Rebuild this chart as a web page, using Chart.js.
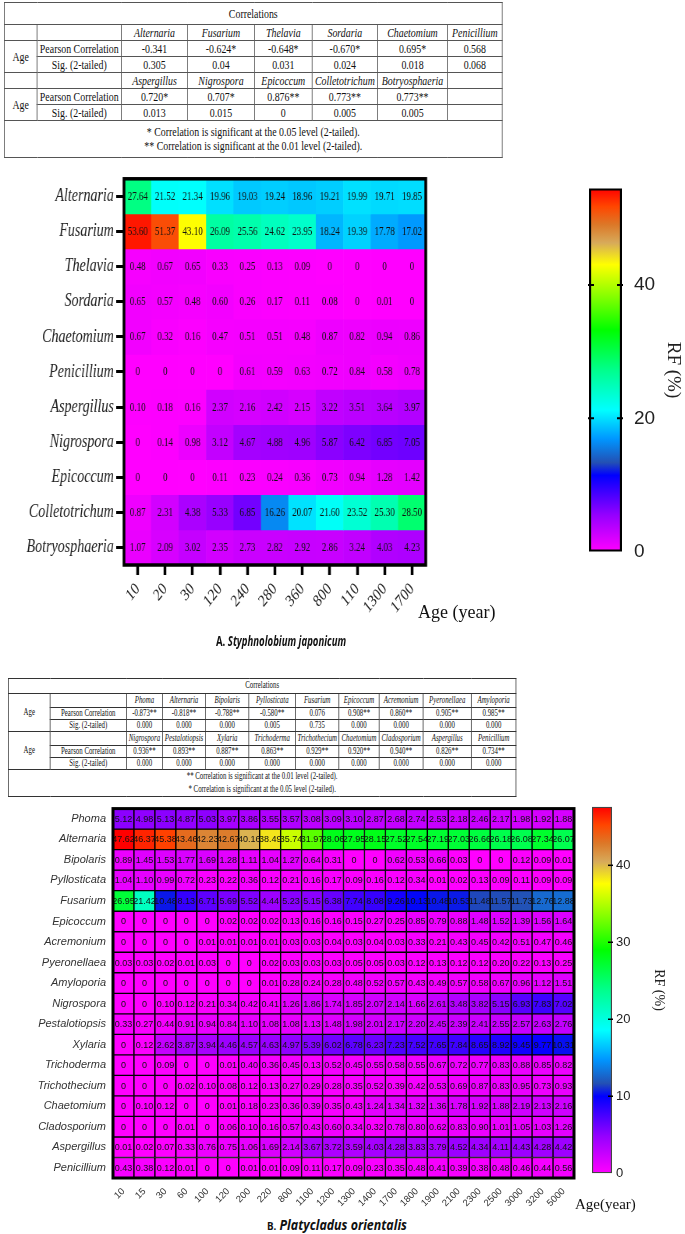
<!DOCTYPE html>
<html>
<head>
<meta charset="utf-8">
<script src="https://cdn.jsdelivr.net/npm/chart.js@4.4.0/dist/chart.umd.min.js"></script>
<style>
    body { margin: 0; width: 685px; height: 1234px; position: relative; background: #fff; overflow: hidden; font-family: "Liberation Serif", serif; color: #111; }
    .abs { position: absolute; }
    .squeeze { transform-origin: 0 0; }
    table.corr { border-collapse: collapse; table-layout: fixed; }
    table.corr td { padding: 0; text-align: center; vertical-align: middle; white-space: nowrap; overflow: hidden; line-height: 1; }
    #tblA { font-size: 13px; }
    #tblA td { border: 1px solid #555; }
    #tblA td.note { line-height: 1.1; }
    #tblB { font-size: 9.5px; }
    #tblB td { border: 1px solid #333; }
    #tblB td.note { line-height: 1.35; }
    .cap { position: absolute; font-family: "Open Sans", sans-serif; font-weight: bold; font-size: 14px; white-space: nowrap; transform-origin: 0 50%; color: #111; }
    .agelab { position: absolute; white-space: nowrap; color: #111; }
</style>
</head>
<body>

<div class="abs squeeze" style="left:4px; top:2px; transform: scaleX(0.76);">
    <table class="corr" id="tblA" style="width:655px;">
        <colgroup>
            <col style="width:43px"><col style="width:111px"><col style="width:87px"><col style="width:88px">
            <col style="width:76px"><col style="width:86px"><col style="width:92px"><col style="width:72px">
        </colgroup>
    </table>
</div>

<canvas id="heatA" class="abs" width="554" height="470" style="left:0px; top:165px; width:432px; height:470px;"></canvas>
<canvas id="barA" class="abs" width="100" height="410" style="left:584px; top:165px; width:100px; height:410px;"></canvas>
<div class="agelab" style="left:418px; top:602px; font-size:18px;">Age (year)</div>
<div class="cap" id="capA" style="left:216px; top:631px;">A. <i>Styphnolobium japonicum</i></div>

<div class="abs squeeze" style="left:8px; top:678px; transform: scaleX(0.72);">
    <table class="corr" id="tblB" style="width:705px;">
        <colgroup>
            <col style="width:58px"><col style="width:106px"><col style="width:50px"><col style="width:60px">
            <col style="width:60px"><col style="width:65px"><col style="width:60px"><col style="width:56px">
            <col style="width:61px"><col style="width:67px"><col style="width:62px">
        </colgroup>
    </table>
</div>

<canvas id="heatB" class="abs" width="580" height="420" style="left:0px; top:795px; width:580px; height:420px;"></canvas>
<canvas id="barB" class="abs" width="80" height="390" style="left:587px; top:795px; width:80px; height:390px;"></canvas>
<div class="agelab" style="left:575px; top:1196px; font-size:15px;">Age(year)</div>
<div class="cap" id="capB" style="left:267px; top:1215px;"><span style="font-size:11px">B.</span> <i>Platycladus orientalis</i></div>

<script>
// ---------- A. Styphnolobium japonicum ----------
const agesA = ['10', '20', '30', '120', '240', '280', '360', '800', '110', '1300', '1700'];
const taxaA = ['Alternaria', 'Fusarium', 'Thelavia', 'Sordaria', 'Chaetomium', 'Penicillium',
    'Aspergillus', 'Nigrospora', 'Epicoccum', 'Colletotrichum', 'Botryosphaeria'];
const rfA = [
    [27.64, 21.52, 21.34, 19.96, 19.03, 19.24, 18.96, 19.21, 19.99, 19.71, 19.85],
    [53.60, 51.37, 43.10, 26.09, 25.56, 24.62, 23.95, 18.24, 19.39, 17.78, 17.02],
    [0.48, 0.67, 0.65, 0.33, 0.25, 0.13, 0.09, 0, 0, 0, 0],
    [0.65, 0.57, 0.48, 0.60, 0.26, 0.17, 0.11, 0.08, 0, 0.01, 0],
    [0.67, 0.32, 0.16, 0.47, 0.51, 0.51, 0.48, 0.87, 0.82, 0.94, 0.86],
    [0, 0, 0, 0, 0.61, 0.59, 0.63, 0.72, 0.84, 0.58, 0.78],
    [0.10, 0.18, 0.16, 2.37, 2.16, 2.42, 2.15, 3.22, 3.51, 3.64, 3.97],
    [0, 0.14, 0.98, 3.12, 4.67, 4.88, 4.96, 5.87, 6.42, 6.85, 7.05],
    [0, 0, 0, 0.11, 0.23, 0.24, 0.36, 0.73, 0.94, 1.28, 1.42],
    [0.87, 2.31, 4.38, 5.33, 6.85, 16.26, 20.07, 21.60, 23.52, 25.30, 28.50],
    [1.07, 2.09, 3.02, 2.35, 2.73, 2.82, 2.92, 2.86, 3.24, 4.03, 4.23]
];
const rfMaxA = 54.5;

const corrTaxaA1 = ['Alternaria', 'Fusarium', 'Thelavia', 'Sordaria', 'Chaetomium', 'Penicillium'];
const corrRA1 = ['-0.341', '-0.624*', '-0.648*', '-0.670*', '0.695*', '0.568'];
const corrPA1 = ['0.305', '0.04', '0.031', '0.024', '0.018', '0.068'];
const corrTaxaA2 = ['Aspergillus', 'Nigrospora', 'Epicoccum', 'Colletotrichum', 'Botryosphaeria', ''];
const corrRA2 = ['0.720*', '0.707*', '0.876**', '0.773**', '0.773**', ''];
const corrPA2 = ['0.013', '0.015', '0', '0.005', '0.005', ''];

// ---------- B. Platycladus orientalis ----------
const agesB = ['10', '15', '30', '60', '100', '120', '200', '220', '800', '1100', '1200', '1300', '1400',
    '1700', '1800', '1900', '2100', '2300', '2500', '3000', '3200', '5000'];
const taxaB = ['Phoma', 'Alternaria', 'Bipolaris', 'Pyllosticata', 'Fusarium', 'Epicoccum', 'Acremonium',
    'Pyeronellaea', 'Amyloporia', 'Nigrospora', 'Pestalotiopsis', 'Xylaria', 'Trichoderma',
    'Trichothecium', 'Chaetomium', 'Cladosporium', 'Aspergillus', 'Penicillium'];
const rfB = [
    [5.12, 4.98, 5.13, 4.87, 5.03, 3.97, 3.86, 3.55, 3.57, 3.08, 3.09, 3.10, 2.87, 2.68, 2.74, 2.53, 2.18, 2.46, 2.17, 1.98, 1.92, 1.88],
    [47.62, 46.37, 45.38, 43.46, 42.23, 42.67, 40.16, 38.49, 35.74, 31.97, 28.06, 27.95, 28.15, 27.52, 27.54, 27.19, 27.03, 26.66, 26.18, 26.08, 27.34, 26.07],
    [0.89, 1.45, 1.53, 1.77, 1.69, 1.28, 1.11, 1.04, 1.27, 0.64, 0.31, 0, 0, 0.62, 0.53, 0.66, 0.03, 0, 0, 0.12, 0.09, 0.01],
    [1.04, 1.10, 0.99, 0.72, 0.23, 0.22, 0.36, 0.12, 0.21, 0.16, 0.17, 0.09, 0.16, 0.12, 0.34, 0.01, 0.02, 0.13, 0.09, 0.11, 0.09, 0.09],
    [26.95, 21.42, 10.48, 8.13, 6.71, 5.69, 5.52, 4.44, 5.23, 5.15, 6.38, 7.74, 8.08, 9.26, 10.13, 10.48, 10.53, 11.48, 11.57, 11.73, 12.76, 12.88],
    [0, 0, 0, 0, 0, 0.02, 0.02, 0.02, 0.13, 0.16, 0.16, 0.15, 0.27, 0.25, 0.85, 0.79, 0.88, 1.48, 1.52, 1.39, 1.56, 1.64],
    [0, 0, 0, 0, 0.01, 0.01, 0.01, 0.01, 0.03, 0.03, 0.04, 0.03, 0.04, 0.03, 0.33, 0.21, 0.43, 0.45, 0.42, 0.51, 0.47, 0.46],
    [0.03, 0.03, 0.02, 0.01, 0.03, 0, 0, 0.02, 0.03, 0.03, 0.03, 0.05, 0.05, 0.03, 0.12, 0.13, 0.12, 0.12, 0.20, 0.22, 0.13, 0.25],
    [0, 0, 0, 0, 0, 0, 0, 0.01, 0.28, 0.24, 0.28, 0.48, 0.52, 0.57, 0.43, 0.49, 0.57, 0.58, 0.67, 0.96, 1.12, 1.51],
    [0, 0, 0.10, 0.12, 0.21, 0.34, 0.42, 0.41, 1.26, 1.86, 1.74, 1.85, 2.07, 2.14, 1.66, 2.61, 3.48, 3.82, 5.15, 6.93, 7.83, 7.02],
    [0.33, 0.27, 0.44, 0.91, 0.94, 0.84, 1.10, 1.08, 1.08, 1.13, 1.48, 1.98, 2.01, 2.17, 2.20, 2.45, 2.39, 2.41, 2.55, 2.57, 2.63, 2.76],
    [0, 0.12, 2.62, 3.87, 3.94, 4.46, 4.57, 4.63, 4.97, 5.39, 6.02, 6.78, 6.23, 7.23, 7.52, 7.65, 7.84, 8.65, 8.92, 9.45, 9.77, 10.31],
    [0, 0, 0.09, 0, 0, 0.01, 0.40, 0.36, 0.45, 0.13, 0.52, 0.45, 0.55, 0.58, 0.55, 0.67, 0.72, 0.77, 0.83, 0.88, 0.85, 0.82],
    [0, 0, 0, 0.02, 0.10, 0.08, 0.12, 0.13, 0.27, 0.29, 0.28, 0.35, 0.52, 0.39, 0.42, 0.53, 0.69, 0.87, 0.83, 0.95, 0.73, 0.93],
    [0, 0.10, 0.12, 0, 0, 0.01, 0.18, 0.23, 0.36, 0.39, 0.35, 0.43, 1.24, 1.34, 1.32, 1.36, 1.78, 1.92, 1.88, 2.19, 2.13, 2.16],
    [0, 0, 0, 0.01, 0, 0.06, 0.10, 0.16, 0.57, 0.43, 0.60, 0.34, 0.32, 0.78, 0.80, 0.62, 0.83, 0.90, 1.01, 1.05, 1.03, 1.26],
    [0.01, 0.02, 0.07, 0.33, 0.76, 0.75, 1.06, 1.69, 2.14, 3.67, 3.72, 3.59, 4.03, 4.28, 3.83, 3.79, 4.52, 4.34, 4.11, 4.43, 4.28, 4.42],
    [0.43, 0.38, 0.12, 0.01, 0, 0, 0.01, 0.01, 0.09, 0.11, 0.17, 0.09, 0.23, 0.35, 0.48, 0.41, 0.39, 0.38, 0.48, 0.46, 0.44, 0.56]
];
const rfMaxB = 47.6;

const corrTaxaB1 = ['Phoma', 'Alternaria', 'Bipolaris', 'Pyllosticata', 'Fusarium', 'Epicoccum', 'Acremonium', 'Pyeronellaea', 'Amyloporia'];
const corrRB1 = ['-0.873**', '-0.818**', '-0.788**', '-0.580**', '0.076', '0.908**', '0.860**', '0.905**', '0.985**'];
const corrPB1 = ['0.000', '0.000', '0.000', '0.005', '0.735', '0.000', '0.000', '0.000', '0.000'];
const corrTaxaB2 = ['Nigrospora', 'Pestalotiopsis', 'Xylaria', 'Trichoderma', 'Trichothecium', 'Chaetomium', 'Cladosporium', 'Aspergillus', 'Penicillium'];
const corrRB2 = ['0.936**', '0.893**', '0.887**', '0.863**', '0.929**', '0.920**', '0.940**', '0.826**', '0.734**'];
const corrPB2 = ['0.000', '0.000', '0.000', '0.000', '0.000', '0.000', '0.000', '0.000', '0.000'];

const note05 = '* Correlation is significant at the 0.05 level (2-tailed).';
const note01 = '** Correlation is significant at the 0.01 level (2-tailed).';

// rainbow colour map (fraction of the colour bar max -> colour)
const rfStops = [
    [0.00, [255, 0, 255]],
    [0.10, [150, 0, 255]],
    [0.21, [0, 0, 255]],
    [0.245, [35, 80, 180]],
    [0.31, [0, 150, 255]],
    [0.39, [0, 255, 255]],
    [0.50, [0, 255, 140]],
    [0.61, [0, 255, 0]],
    [0.70, [130, 255, 0]],
    [0.79, [255, 255, 0]],
    [0.85, [215, 170, 90]],
    [0.90, [220, 120, 40]],
    [0.95, [255, 70, 0]],
    [1.00, [255, 0, 0]]
];

function rfColor(t) {
    t = Math.max(0, Math.min(1, t));
    for (let i = 1; i < rfStops.length; i++) {
        const [t1, c1] = rfStops[i];
        if (t <= t1) {
            const [t0, c0] = rfStops[i - 1];
            const f = (t - t0) / (t1 - t0);
            const c = c0.map((v, k) => Math.round(v + (c1[k] - v) * f));
            return `rgb(${c[0]},${c[1]},${c[2]})`;
        }
    }
    return 'rgb(255,0,0)';
}

function fmtRF(v) {
    return v === 0 ? '0' : v.toFixed(2);
}

// Correlation tables
function buildCorrTable(id, blocks, ageSpan, rowH, notes) {
    const nCols = blocks[0].taxa.length + 2;
    const cells = arr => arr.map(v => `<td>${v}</td>`).join('');
    const age = `<td rowspan="${ageSpan}">Age</td>`;
    let html = `<tr style="height:${rowH.title}px"><td colspan="${nCols}">Correlations</td></tr>`;
    blocks.forEach(b => {
        html += `<tr style="height:${rowH.head}px">${ageSpan === 3 ? age : '<td></td>'}<td></td>${b.taxa.map(n => `<td><i>${n}</i></td>`).join('')}</tr>`;
        html += `<tr style="height:${rowH.row}px">${ageSpan === 2 ? age : ''}<td>Pearson Correlation</td>${cells(b.r)}</tr>`;
        html += `<tr style="height:${rowH.row}px"><td>Sig. (2-tailed)</td>${cells(b.p)}</tr>`;
    });
    html += `<tr style="height:${rowH.foot}px"><td class="note" colspan="${nCols}">${notes.join('<br>')}</td></tr>`;
    const tbody = document.createElement('tbody');
    tbody.innerHTML = html;
    document.getElementById(id).appendChild(tbody);
}

buildCorrTable('tblA', [
    { taxa: corrTaxaA1, r: corrRA1, p: corrPA1 },
    { taxa: corrTaxaA2, r: corrRA2, p: corrPA2 }
], 2, { title: 22, head: 16, row: 16, foot: 37 }, [note05, note01]);

buildCorrTable('tblB', [
    { taxa: corrTaxaB1, r: corrRB1, p: corrPB1 },
    { taxa: corrTaxaB2, r: corrRB2, p: corrPB2 }
], 3, { title: 15, head: 14, row: 12, foot: 25 }, [note01, note05]);

// Plugins
const cellText = {
    id: 'cellText',
    afterDatasetsDraw(chart, args, opts) {
        const ctx = chart.ctx;
        ctx.save();
        ctx.font = opts.font;
        ctx.fillStyle = opts.color;
        ctx.textAlign = 'center';
        ctx.textBaseline = 'middle';
        chart.data.datasets.forEach((ds, i) => {
            chart.getDatasetMeta(i).data.forEach((bar, j) => {
                const p = bar.getProps(['x', 'y', 'base'], true);
                ctx.fillText(fmtRF(ds.rf[j]), p.x, (p.y + p.base) / 2 + 0.5);
            });
        });
        ctx.restore();
    }
};

const frame = {
    id: 'frame',
    afterDatasetsDraw(chart, args, opts) {
        const { ctx, chartArea: a } = chart;
        ctx.save();
        ctx.lineWidth = opts.width;
        ctx.strokeStyle = '#000';
        ctx.strokeRect(a.left, a.top, a.right - a.left, a.bottom - a.top);
        ctx.restore();
    }
};

const cbarTicks = {
    id: 'cbarTicks',
    afterDatasetsDraw(chart, args, opts) {
        const { ctx, chartArea: a } = chart;
        const y = chart.scales.y;
        ctx.save();
        ctx.strokeStyle = '#000';
        ctx.lineWidth = opts.width;
        y.ticks.forEach(t => {
            if (t.value === 0) return;
            const py = y.getPixelForValue(t.value);
            ctx.beginPath();
            if (opts.both) {
                ctx.moveTo(a.left - 1, py);
                ctx.lineTo(a.left + opts.len, py);
            }
            ctx.moveTo(a.right - opts.len, py);
            ctx.lineTo(a.right + 1, py);
            ctx.stroke();
        });
        ctx.restore();
    }
};

function makeHeatmap(id, taxa, ages, rf, cmax, o) {
    return new Chart(document.getElementById(id), {
        type: 'bar',
        data: {
            labels: ages,
            datasets: taxa.map((name, r) => ({
                label: name,
                rf: rf[r],
                data: ages.map(() => [r, r + 1]),
                backgroundColor: rf[r].map(v => rfColor(v / cmax)),
                borderColor: '#000',
                borderWidth: o.cellBorder,
                borderSkipped: false,
                grouped: false,
                barPercentage: 1,
                categoryPercentage: 1
            }))
        },
        options: {
            responsive: false,
            animation: false,
            events: [],
            layout: { padding: o.padding },
            plugins: {
                legend: { display: false },
                tooltip: { enabled: false },
                cellText: o.text,
                frame: { width: o.frame }
            },
            scales: {
                x: {
                    offset: true,
                    grid: o.xGrid,
                    border: { display: false },
                    ticks: { autoSkip: false, minRotation: 45, maxRotation: 45, padding: o.xPad, color: o.tickColor, font: o.xFont },
                    afterFit: s => { s.height = o.xH; }
                },
                y: {
                    min: 0,
                    max: taxa.length,
                    reverse: true,
                    grid: o.yGrid,
                    border: { display: false },
                    afterBuildTicks: s => { s.ticks = taxa.map((_, i) => ({ value: i + 0.5 })); },
                    ticks: { autoSkip: false, padding: o.yPad, color: o.tickColor, font: o.yFont, callback: (v, i) => taxa[i] },
                    afterFit: s => { s.width = o.yW; }
                }
            }
        },
        plugins: [cellText, frame]
    });
}

function rfGradient(chart, cmax) {
    const { ctx, chartArea } = chart;
    if (!chartArea) return '#f0f';
    const y = chart.scales.y;
    const g = ctx.createLinearGradient(0, y.getPixelForValue(0), 0, y.getPixelForValue(cmax));
    rfStops.forEach(s => g.addColorStop(s[0], `rgb(${s[1].join(',')})`));
    return g;
}

function makeColorbar(id, cmax, step, o) {
    return new Chart(document.getElementById(id), {
        type: 'bar',
        data: {
            labels: ['RF'],
            datasets: [{
                data: [[0, cmax]],
                backgroundColor: c => rfGradient(c.chart, cmax),
                borderColor: o.border,
                borderWidth: o.borderWidth,
                borderSkipped: false,
                barPercentage: 1,
                categoryPercentage: 1
            }]
        },
        options: {
            responsive: false,
            animation: false,
            events: [],
            layout: { padding: o.padding },
            plugins: {
                legend: { display: false },
                tooltip: { enabled: false },
                cbarTicks: o.marks
            },
            scales: {
                x: { display: false },
                y: {
                    position: 'right',
                    min: 0,
                    max: cmax,
                    grid: { display: false, drawTicks: false },
                    border: { display: false },
                    ticks: { stepSize: step, includeBounds: false, padding: o.tickPad, color: '#222', font: { family: 'Liberation Sans', size: o.tickSize } },
                    title: { display: true, text: 'RF (%)', color: '#222', padding: 0, font: { family: 'Liberation Serif', size: o.titleSize } },
                    afterFit: s => { s.width = o.axisW; }
                }
            }
        },
        plugins: [cbarTicks]
    });
}

makeHeatmap('heatA', taxaA, agesA, rfA, rfMaxA, {
    padding: { top: 7, right: 8, left: 0, bottom: 0 },
    cellBorder: 0,
    frame: 3.5,
    text: { font: '11.5px "Liberation Serif"', color: '#111' },
    tickColor: '#222',
    xGrid: { drawOnChartArea: false, offset: false, tickLength: 10, tickWidth: 3.5, color: '#000' },
    yGrid: { drawOnChartArea: false, tickLength: 10, tickWidth: 3, color: '#000' },
    xPad: 4, yPad: 3,
    xFont: { family: 'Liberation Serif', size: 17 },
    yFont: { family: 'Liberation Serif', size: 18, style: 'italic' },
    xH: 70, yW: 159
});

makeColorbar('barA', rfMaxA, 20, {
    padding: { top: 7, right: 0, left: 5, bottom: 9 },
    border: '#000', borderWidth: 2.5,
    tickPad: 12, tickSize: 19, titleSize: 19, axisW: 62,
    marks: { both: true, len: 5, width: 2 }
});

makeHeatmap('heatB', taxaB, agesB, rfB, rfMaxB, {
    padding: { top: 6, right: 6, left: 0, bottom: 0 },
    cellBorder: 1,
    frame: 3,
    text: { font: '9px "Liberation Sans"', color: '#111' },
    tickColor: '#333',
    xGrid: { display: false, drawTicks: false },
    yGrid: { display: false, drawTicks: false },
    xPad: 8, yPad: 7,
    xFont: { family: 'Liberation Sans', size: 9.5 },
    yFont: { family: 'Liberation Sans', size: 11, style: 'italic' },
    xH: 37, yW: 113
});

makeColorbar('barB', rfMaxB, 10, {
    padding: { top: 6, right: 0, left: 5, bottom: 8 },
    border: '#444', borderWidth: 1.5,
    tickPad: 4, tickSize: 13, titleSize: 14, axisW: 55,
    marks: { both: false, len: 4, width: 1.5 }
});

// squeeze captions to the reference width
function fitCaption(id, w) {
    const el = document.getElementById(id);
    el.style.transform = `scaleX(${w / el.offsetWidth})`;
}
fitCaption('capA', 130);
fitCaption('capB', 140);
</script>
</body>
</html>
